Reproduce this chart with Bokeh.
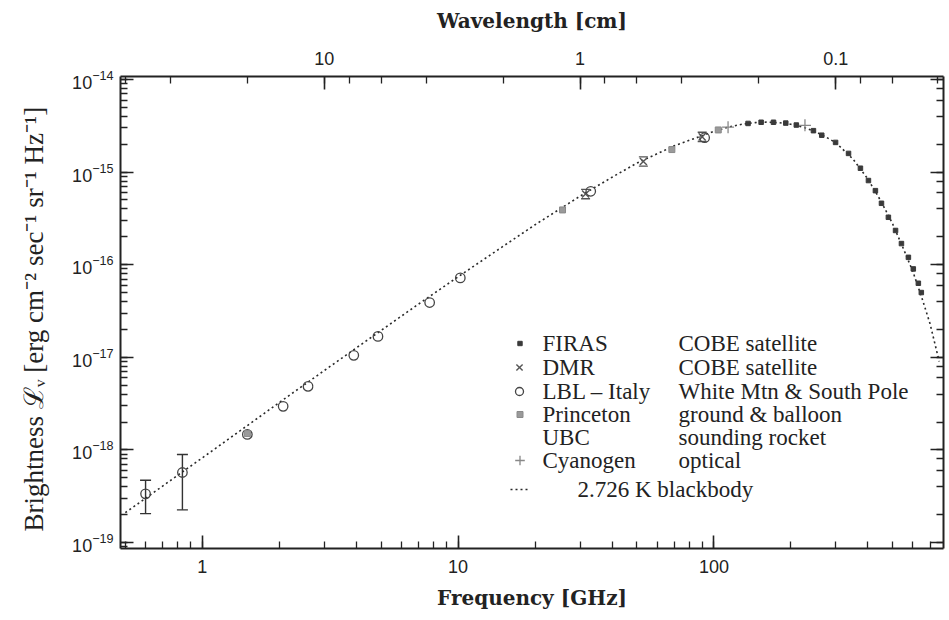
from bokeh.plotting import figure
from bokeh.models import (Range1d, LogScale, LogAxis, LogTicker, LogTickFormatter,
                          CustomJSTickFormatter, Legend, LegendItem, Whisker, TeeHead,
                          ColumnDataSource, Label)
from bokeh.embed import file_html
from bokeh.resources import INLINE

# ---------------- data ----------------
bb_freq = [0.5, 0.6, 0.8, 1.0, 1.5, 2, 3, 5, 7, 10, 15, 20, 30, 40, 50, 70, 100, 115, 130,
           145, 160, 180, 200, 225, 250, 275, 300, 350, 400, 450, 500, 550, 600, 650, 700, 760]
bb_val = [2.1e-19, 3.0e-19, 5.3e-19, 8.2e-19, 1.83e-18, 3.25e-18, 7.2e-18, 1.95e-17, 3.75e-17,
          7.4e-17, 1.58e-16, 2.7e-16, 5.5e-16, 8.8e-16, 1.25e-15, 1.92e-15, 2.75e-15, 3.08e-15,
          3.3e-15, 3.42e-15, 3.46e-15, 3.41e-15, 3.28e-15, 3.03e-15, 2.72e-15, 2.38e-15, 2.07e-15,
          1.38e-15, 8.4e-16, 4.85e-16, 2.75e-16, 1.5e-16, 8.4e-17, 4.4e-17, 2.3e-17, 9.0e-18]

firas_freq = [136, 153, 171, 191, 210, 245, 264, 299, 336, 374, 402, 428, 452, 481, 513, 541,
              576, 602, 630, 647]
firas_val = [3.35e-15, 3.45e-15, 3.45e-15, 3.38e-15, 3.22e-15, 2.8e-15, 2.5e-15, 2.09e-15,
             1.59e-15, 1.1e-15, 8.1e-16, 6.3e-16, 4.6e-16, 3.25e-16, 2.34e-16, 1.69e-16,
             1.2e-16, 9.0e-17, 6.3e-17, 5.0e-17]

dmr_freq = [31.5, 53.0, 90.0]
dmr_val = [5.8e-16, 1.3e-15, 2.4e-15]
dmr_lo = [5.15e-16, 1.16e-15, 2.14e-15]
dmr_hi = [6.5e-16, 1.46e-15, 2.69e-15]

lbl_freq = [0.6, 0.836, 1.5, 2.07, 2.59, 3.91, 4.86, 7.74, 10.2, 33.0, 92.0]
lbl_val = [3.35e-19, 5.7e-19, 1.47e-18, 2.95e-18, 4.85e-18, 1.05e-17, 1.68e-17, 3.9e-17,
           7.2e-17, 6.2e-16, 2.35e-15]
lbl_err_freq = [0.6, 0.836]
lbl_err_lo = [2.05e-19, 2.25e-19]
lbl_err_hi = [4.7e-19, 8.9e-19]

princeton_freq = [1.5, 25.6, 68.5, 104.0]
princeton_val = [1.5e-18, 3.9e-16, 1.75e-15, 2.85e-15]

cyan_freq = [113.6, 227.0]
cyan_val = [3.05e-15, 3.2e-15]

x_title = "Frequency [GHz]"
top_title = "Wavelength [cm]"
y_title = "Brightness  \u2112\u1d65  [erg cm\u207b\u00b2 sec\u207b\u00b9 sr\u207b\u00b9 Hz\u207b\u00b9]"

legend_rows = [("FIRAS", "COBE satellite"),
               ("DMR", "COBE satellite"),
               ("LBL \u2013 Italy", "White Mtn & South Pole"),
               ("Princeton", "ground & balloon"),
               ("UBC", "sounding rocket"),
               ("Cyanogen", "optical")]
bb_label = "2.726 K blackbody"

X_MIN, X_MAX = 0.4788, 790.0
Y_MIN, Y_MAX = 10 ** -19.065, 10 ** -13.968
C_CM_GHZ = 29.98

INK = "#222222"
SERIF_B = "DejaVu Serif"
SERIF = "Liberation Serif"
SANS = "Liberation Sans"

W, Hfig = 949, 620
FRAME_L, FRAME_T, FRAME_R, FRAME_B = 120, 76, 943, 548

p = figure(width=W, height=Hfig, x_axis_type="log", y_axis_type="log",
           x_range=Range1d(X_MIN, X_MAX), y_range=Range1d(Y_MIN, Y_MAX),
           output_backend="svg", toolbar_location=None,
           min_border_left=FRAME_L, min_border_right=W - FRAME_R,
           min_border_top=FRAME_T, min_border_bottom=Hfig - FRAME_B)
p.grid.visible = False
p.outline_line_color = None
p.background_fill_color = "white"
p.border_fill_color = "white"

# secondary wavelength range (lambda = c / nu)
p.extra_x_ranges = {"wl": Range1d(C_CM_GHZ / X_MIN, C_CM_GHZ / X_MAX)}
p.extra_x_scales = {"wl": LogScale()}


def style_axis(ax):
    ax.axis_line_width = 2
    ax.axis_line_color = INK
    ax.major_tick_in = 13
    ax.major_tick_out = 0
    ax.minor_tick_in = 7
    ax.minor_tick_out = 0
    ax.major_tick_line_width = 1.6
    ax.minor_tick_line_width = 1.3
    ax.major_tick_line_color = INK
    ax.minor_tick_line_color = INK
    ax.major_label_text_font = SANS
    ax.major_label_text_font_size = "18px"
    ax.major_label_text_color = INK
    ax.axis_label_text_font = SERIF_B
    ax.axis_label_text_font_style = "bold"
    ax.axis_label_text_font_size = "20px"
    ax.axis_label_text_color = INK


xax = p.xaxis[0]
style_axis(xax)
xax.formatter = LogTickFormatter(min_exponent=4)
xax.axis_label = x_title
xax.major_label_standoff = 11
xax.axis_label_standoff = 10

yax = p.yaxis[0]
style_axis(yax)
yax.axis_label = y_title
yax.axis_label_text_font = SERIF
yax.axis_label_text_font_style = "normal"
yax.axis_label_text_font_size = "27px"
yax.major_label_standoff = 7
yax.axis_label_standoff = 20

top = LogAxis(x_range_name="wl", ticker=LogTicker(), formatter=LogTickFormatter(min_exponent=4))
style_axis(top)
top.axis_label = top_title
top.major_label_standoff = 12
top.axis_label_standoff = 16
p.add_layout(top, "above")

right = LogAxis(formatter=CustomJSTickFormatter(code="return ''"))
style_axis(right)
right.major_label_standoff = 0
p.add_layout(right, "right")

# ---------------- glyphs ----------------
r_bb = p.line(bb_freq, bb_val, line_dash="2 3", line_width=1.6, line_color="#2a2a2a")

r_firas = p.scatter(firas_freq, firas_val, marker="square", size=4.5,
                    fill_color="#3a3a3a", line_color="#3a3a3a")

r_dmr = p.scatter(dmr_freq, dmr_val, marker="x", size=10, line_color="#555555", line_width=1.4)
p.scatter(dmr_freq, dmr_lo, marker="dash", size=9, line_color="#555555", line_width=1.4)
p.scatter(dmr_freq, dmr_hi, marker="dash", size=9, line_color="#555555", line_width=1.4)

err_src = ColumnDataSource(dict(x=lbl_err_freq, lo=lbl_err_lo, hi=lbl_err_hi))
p.add_layout(Whisker(base="x", lower="lo", upper="hi", dimension="height", source=err_src,
                     line_color="#333333", line_width=1.4,
                     upper_head=TeeHead(size=11, line_color="#333333", line_width=1.4),
                     lower_head=TeeHead(size=11, line_color="#333333", line_width=1.4)))
r_lbl = p.scatter(lbl_freq, lbl_val, marker="circle", size=9.5, fill_alpha=0,
                  line_color="#444444", line_width=1.3)

r_pr = p.scatter(princeton_freq, princeton_val, marker="square", size=6,
                 fill_color="#9a9a9a", line_color="#8a8a8a")

r_cy = p.scatter(cyan_freq, cyan_val, marker="cross", size=12, line_color="#888888",
                 line_width=1.3)

# ---------------- legend (glyph swatches + serif text labels) ----------------
row_y = [343, 367, 391, 414, 437, 460]
marker_size = [4.5, 9, 8, 6, 0, 10]
row_renderers = [r_firas, r_dmr, r_lbl, r_pr, None, r_cy]
H = 24


def swatch(renderer, cx, cy, gw):
    vx = cx - FRAME_L - gw / 2
    vy = FRAME_B - (cy + H / 2)
    lg = Legend(items=[LegendItem(label=" ", renderers=[renderer])], location=(vx, vy),
                glyph_width=gw, glyph_height=H, label_height=H, label_width=1, spacing=0,
                label_standoff=0, padding=0, margin=0,
                border_line_alpha=0, background_fill_alpha=0, label_text_font_size="1px")
    p.add_layout(lg, "center")


def text(t, x, cy):
    p.add_layout(Label(x=x - FRAME_L, y=FRAME_B - cy, x_units="screen", y_units="screen",
                       text=t, text_font=SERIF, text_font_size="23px", text_color=INK,
                       text_baseline="middle", text_align="left"))


for (name, desc), yc, ms, rr in zip(legend_rows, row_y, marker_size, row_renderers):
    if rr is not None:
        swatch(rr, 519, yc, int(round(ms / 0.4)))
    text(name, 542, yc)
    text(desc, 678, yc)

yb = 489
swatch(r_bb, 520, yb, 20)
text(bb_label, 577, yb)

open("out.html", "w").write(file_html(p, INLINE))
